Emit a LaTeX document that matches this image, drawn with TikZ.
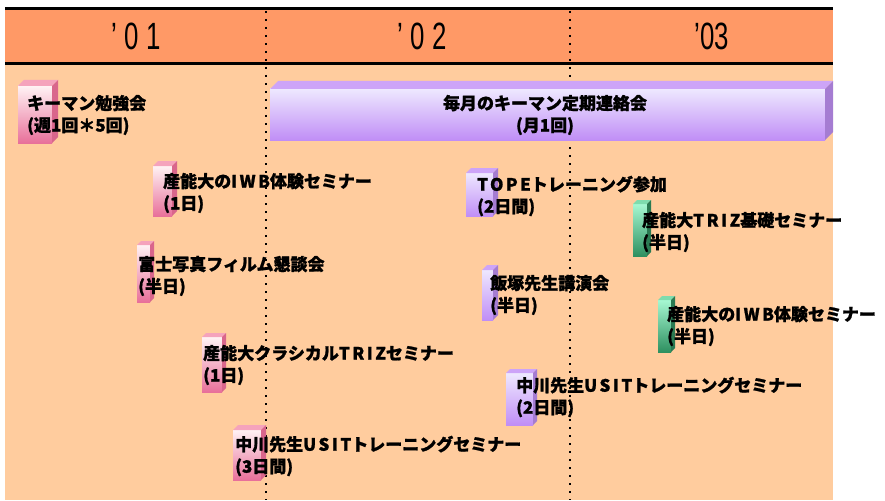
\documentclass[tikz,border=0pt]{standalone}
\usepackage{fontspec}
\newfontfamily\jp{Noto Sans CJK JP}[BoldFeatures={FakeBold=1.2}]
\newfontfamily\hdr{Liberation Sans}[FakeStretch=0.68]
\definecolor{bgpeach}{HTML}{FFCC9E}
\definecolor{band}{HTML}{FF9966}
\definecolor{pkT}{HTML}{FFF2F4}\definecolor{pkB}{HTML}{E8709A}\definecolor{pkTop}{HTML}{F5A3BC}\definecolor{pkSide}{HTML}{D9668C}
\definecolor{puT}{HTML}{EEE8FF}\definecolor{puB}{HTML}{C08EF6}\definecolor{puTop}{HTML}{CDA4F8}\definecolor{puSide}{HTML}{A57CD2}
\definecolor{grT}{HTML}{A6F8D2}\definecolor{grB}{HTML}{2E9060}\definecolor{grTop}{HTML}{7EDCAE}\definecolor{grSide}{HTML}{2A7A52}
\newcommand\lsp[1]{{\addfontfeature{LetterSpace=15}#1}}
% cube: x1,y1,x2,y2,depth,prefix
\newcommand\cube[6]{%
  \shade[top color=#6T, bottom color=#6B] (#1,#2) rectangle (#3,#4);
  \fill[#6Top] (#1,#2) -- (#1+#5,#2-#5) -- (#3+#5,#2-#5) -- (#3,#2) -- cycle;
  \fill[#6Side] (#3,#2) -- (#3+#5,#2-#5) -- (#3+#5,#4-#5) -- (#3,#4) -- cycle;}
\tikzset{
  lbl/.style={anchor=west, inner sep=0pt, align=left, font=\jp\bfseries\fontsize{17}{22}\selectfont, text=black},
  yr/.style={inner sep=0pt, font=\hdr\fontsize{38}{38}\selectfont, text=black},
  grid/.style={line width=1.8pt, dash pattern=on 1.8pt off 6.2pt, black}
}
\begin{document}
\begin{tikzpicture}[x=1pt,y=-1pt]
\useasboundingbox (0,0) rectangle (885,500);
% background
\fill[bgpeach] (5,65) rectangle (833,500);
\fill[band] (5,9) rectangle (833,64);
\draw[line width=3pt] (5,9) -- (833,9);
\draw[line width=3pt] (5,64) -- (833,64);
% grid dotted lines
\coordinate (g1t) at (266,11); \coordinate (g1b) at (266,500);
\coordinate (g2t) at (570,11); \coordinate (g2b) at (570,500);
\draw[grid] (g1t) -- (g1b);
\draw[grid] (g2t) -- (g2b);
% years
\node[yr] (y1) at (136,36) {’ 0 1};
\node[yr] (y2) at (422,36) {’ 0 2};
\node[yr] (y3) at (712,36) {’03};
% boxes
\cube{18}{86}{52}{143}{6}{pk}
\cube{270}{89}{825}{140}{8}{pu}
\cube{153}{166}{172}{216}{5}{pk}
\cube{137}{245}{150}{302}{4}{pk}
\cube{202}{337}{222}{392}{4}{pk}
\cube{233}{430}{261}{480}{5}{pk}
\cube{466}{173}{493}{216}{5}{pu}
\cube{482}{270}{493}{320}{5}{pu}
\cube{506}{373}{533}{425}{4}{pu}
\cube{633}{204}{647}{256}{4}{gr}
\cube{658}{300}{671}{352}{4}{gr}
% labels
\node[lbl] (t1) at (27,115) {キーマン勉強会\\(週1回＊5回)};
\node[lbl, anchor=center, align=center] (t2) at (545,115) {毎月のキーマン定期連絡会\\(月1回)};
\node[lbl] (t3) at (163,193) {産能大の\lsp{IWB}体験セミナー\\(1日)};
\node[lbl] (t4) at (138,276) {富士写真フィルム懇談会\\(半日)};
\node[lbl] (t5) at (203,365) {産能大クラシカル\lsp{TRIZ}セミナー\\(1日)};
\node[lbl] (t6) at (235,456) {中川先生\lsp{USIT}トレーニングセミナー\\(3日間)};
\node[lbl] (t7) at (477,196) {\lsp{TOPE}トレーニング参加\\(2日間)};
\node[lbl] (t8) at (490,295) {飯塚先生講演会\\(半日)};
\node[lbl] (t9) at (516,397) {中川先生\lsp{USIT}トレーニングセミナー\\(2日間)};
\node[lbl] (t10) at (642,232) {産能大\lsp{TRIZ}基礎セミナー\\(半日)};
\node[lbl] (t11) at (667,326) {産能大の\lsp{IWB}体験セミナー\\(半日)};
\end{tikzpicture}
\end{document}
